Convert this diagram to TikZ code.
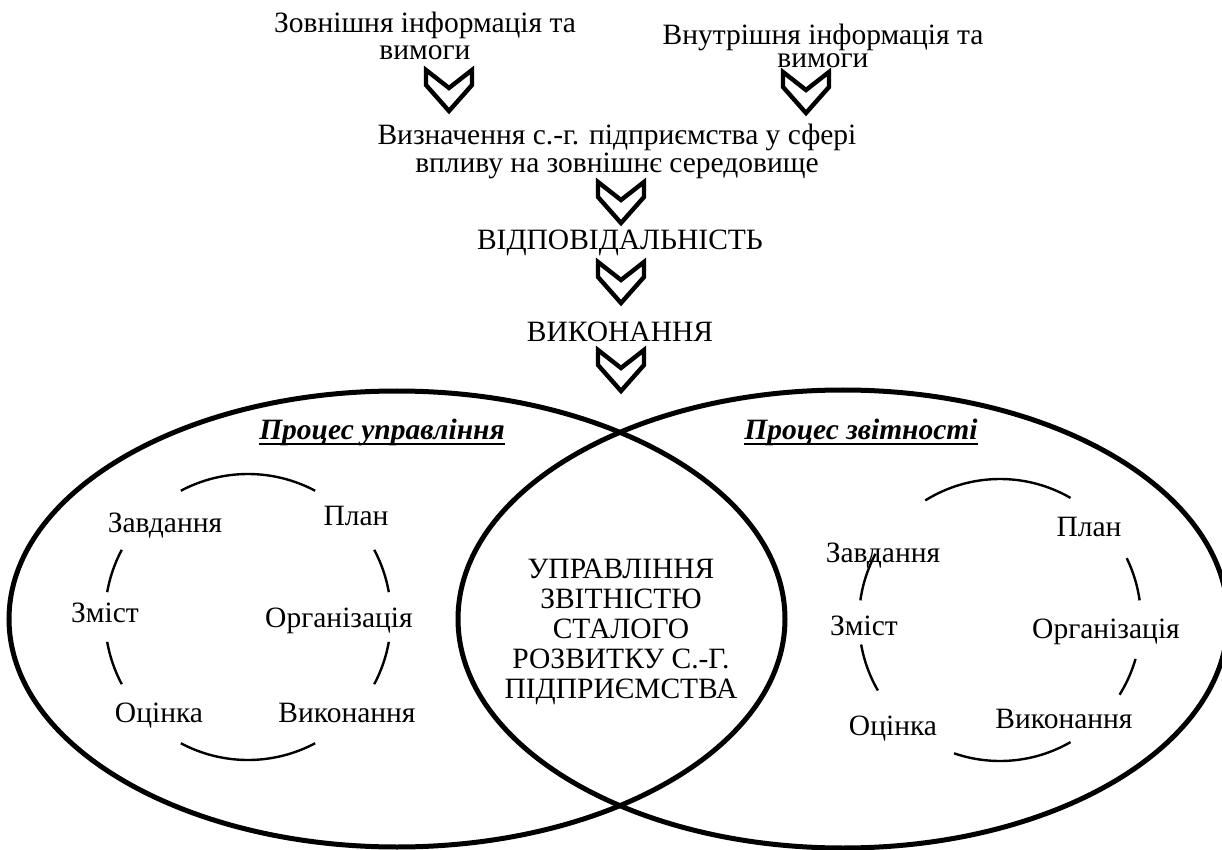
\documentclass[tikz,border=0pt]{standalone}
\usepackage{fontspec}
\newfontfamily\tnr{Liberation Serif}
\usetikzlibrary{positioning, calc}

\tikzset{
  txt/.style={anchor=base, inner sep=0pt, align=center,
              font=\tnr\fontsize{14.75}{14}\selectfont},
  ttl/.style={txt, font=\tnr\fontsize{14.75}{14}\selectfont\bfseries\itshape},
  uline/.style={line width=1.1pt},
  venn/.style={line width=2.5pt},
  cycarc/.style={line width=1.2pt},
  chevron/.pic={
    \draw[line width=2.2pt, line join=miter]
      (-23,0) -- (0,18) -- (23,0) -- (23,15) -- (0,41) -- (-23,15) -- cycle;
  }
}

\begin{document}
\begin{tikzpicture}[x=0.5pt,y=-0.5pt]
\useasboundingbox (0,0) rectangle (1222,850);

% ==================== Vhidni dani ====================
\begin{scope}
  \node[txt, font=\tnr\fontsize{14.75}{13.5}\selectfont] (ext) at (425,60)
    {Зовнішня інформація та\\вимоги};
  \node[txt, font=\tnr\fontsize{14.75}{11.5}\selectfont] (int) at (823,68)
    {Внутрішня інформація та\\вимоги};
  \pic at (449,70) {chevron};
  \pic at (806,72) {chevron};

  \node[txt] (defn) at (617,173)
    {Визначення с.-г. підприємства у сфері\\впливу на зовнішнє середовище};
  \pic at (621,182) {chevron};

  \node[txt] (resp) at (620,250) {ВІДПОВІДАЛЬНІСТЬ};
  \pic at (621,262) {chevron};

  \node[txt] (exec) at (620,342) {ВИКОНАННЯ};
  \pic at (621,350) {chevron};
\end{scope}

% ==================== Diagrama Venna ====================
\begin{scope}
  \draw[venn] (397,619) ellipse [x radius=388, y radius=228];
  \draw[venn] (843,619) ellipse [x radius=385, y radius=229];

  \node[ttl] (titleMgmt) at (382,440) {Процес управління};
  \node[ttl] (titleRep) at (861,440) {Процес звітності};
  \draw[uline] ([yshift=-2pt]titleMgmt.base west) -- ([yshift=-2pt]titleMgmt.base east);
  \draw[uline] ([yshift=-2pt]titleRep.base west) -- ([yshift=-2pt]titleRep.base east);

  \node[txt, font=\tnr\fontsize{14.75}{15}\selectfont] (core) at (621,698)
    {УПРАВЛІННЯ\\ЗВІТНІСТЮ\\СТАЛОГО\\РОЗВИТКУ С.-Г.\\ПІДПРИЄМСТВА};
\end{scope}

% ==================== Cykl upravlinnja ====================
\begin{scope}
  \coordinate (cycL) at (248,617);
  \foreach \a/\b in {62/118, 10/28, -28/-10, -118/-62, 152/170, 190/208}
    \draw[cycarc] (cycL) ++(-\a:143) arc[start angle=-\a, end angle=-\b, radius=143];

  \node[txt] (mTask) at (165,532) {Завдання};
  \node[txt] (mPlan) at (356,525) {План};
  \node[txt] (mCont) at (105,622) {Зміст};
  \node[txt] (mOrg)  at (339,627) {Організація};
  \node[txt] (mEval) at (159,722) {Оцінка};
  \node[txt] (mExec) at (347,722) {Виконання};
\end{scope}

% ==================== Cykl zvitnosti ====================
\begin{scope}
  \coordinate (cycR) at (1000,620);
  \foreach \a/\b in {60/122, 8/26, -32/-16, -109/-60, 152/172, 190/210}
    \draw[cycarc] (cycR) ++(-\a:141) arc[start angle=-\a, end angle=-\b, radius=141];

  \node[txt] (rTask) at (883,562) {Завдання};
  \node[txt] (rPlan) at (1089,537) {План};
  \node[txt] (rCont) at (864,635) {Зміст};
  \node[txt] (rOrg)  at (1106,638) {Організація};
  \node[txt] (rEval) at (893,735) {Оцінка};
  \node[txt] (rExec) at (1064,728) {Виконання};
\end{scope}

\end{tikzpicture}
\end{document}
